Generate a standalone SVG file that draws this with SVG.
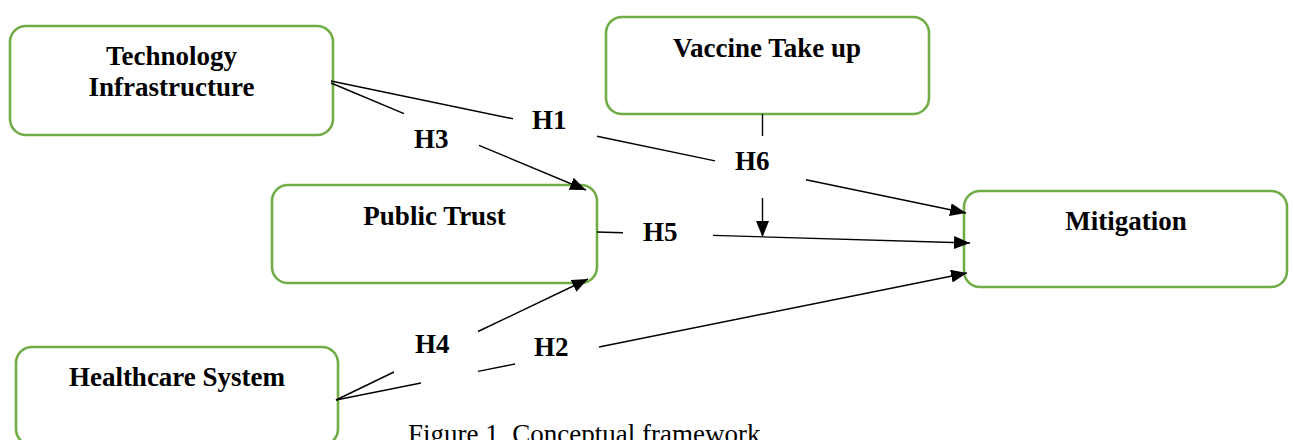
<svg xmlns="http://www.w3.org/2000/svg" width="1293" height="440" viewBox="0 0 1293 440">
<style>
.box{fill:#fff;stroke:#70AD47;stroke-width:2.6}
.t{font-family:"Liberation Serif","Times New Roman",serif;font-weight:bold;font-size:27px;fill:#000;text-anchor:middle}
.lbl{font-family:"Liberation Serif","Times New Roman",serif;font-weight:bold;font-size:27px;fill:#000}
.ln{stroke:#000;stroke-width:1.4;fill:none}
.cap{font-family:"Liberation Serif","Times New Roman",serif;font-size:27px;fill:#000}
</style>
<defs>
<marker id="ah" markerUnits="userSpaceOnUse" markerWidth="17" markerHeight="14" refX="16" refY="6.5" orient="auto">
<path d="M0,0 L16,6.5 L0,13 z" fill="#000"/>
</marker>
</defs>
<rect width="1293" height="440" fill="#fff"/>
<g id="node-tech">
<rect class="box" x="10" y="26" width="323" height="109" rx="16"/>
<text class="t" x="171.5" y="65">Technology</text>
<text class="t" x="171.5" y="96">Infrastructure</text>
</g>
<g id="node-vaccine">
<rect class="box" x="606" y="17" width="323" height="97" rx="16"/>
<text class="t" x="767" y="57">Vaccine Take up</text>
</g>
<g id="node-trust">
<rect class="box" x="272" y="185" width="325" height="98" rx="16"/>
<text class="t" x="434.5" y="225">Public Trust</text>
</g>
<g id="node-mitigation">
<rect class="box" x="964" y="191" width="323" height="96" rx="16"/>
<text class="t" x="1126" y="230">Mitigation</text>
</g>
<g id="node-health">
<rect class="box" x="16" y="347" width="322" height="98" rx="16"/>
<text class="t" x="177" y="386">Healthcare System</text>
</g>
<g id="connectors">
<line class="ln" x1="331" y1="81" x2="513" y2="118.8"/>
<line class="ln" x1="597" y1="136.3" x2="715" y2="160.9"/>
<line class="ln" x1="806" y1="179.8" x2="966" y2="213" marker-end="url(#ah)"/>
<line class="ln" x1="331" y1="83" x2="404" y2="113.7"/>
<line class="ln" x1="479" y1="145.3" x2="586" y2="190" marker-end="url(#ah)"/>
<line class="ln" x1="597" y1="232" x2="623" y2="232.8"/>
<line class="ln" x1="713" y1="235.4" x2="970" y2="243" marker-end="url(#ah)"/>
<line class="ln" x1="762.5" y1="114" x2="762.5" y2="136"/>
<line class="ln" x1="762.5" y1="198" x2="762.5" y2="237" marker-end="url(#ah)"/>
<line class="ln" x1="336" y1="400" x2="394" y2="372"/>
<line class="ln" x1="478" y1="331.5" x2="588" y2="279" marker-end="url(#ah)"/>
<line class="ln" x1="336" y1="400" x2="421" y2="383"/>
<line class="ln" x1="478" y1="371.4" x2="515" y2="364"/>
<line class="ln" x1="599" y1="347" x2="967" y2="273" marker-end="url(#ah)"/>
</g>
<g id="labels">
<text class="lbl" x="532" y="129">H1</text>
<text class="lbl" x="414" y="148">H3</text>
<text class="lbl" x="735" y="170">H6</text>
<text class="lbl" x="643" y="241">H5</text>
<text class="lbl" x="415" y="353">H4</text>
<text class="lbl" x="534" y="356">H2</text>
</g>
<text class="cap" x="408" y="443">Figure 1. Conceptual framework</text>
</svg>
